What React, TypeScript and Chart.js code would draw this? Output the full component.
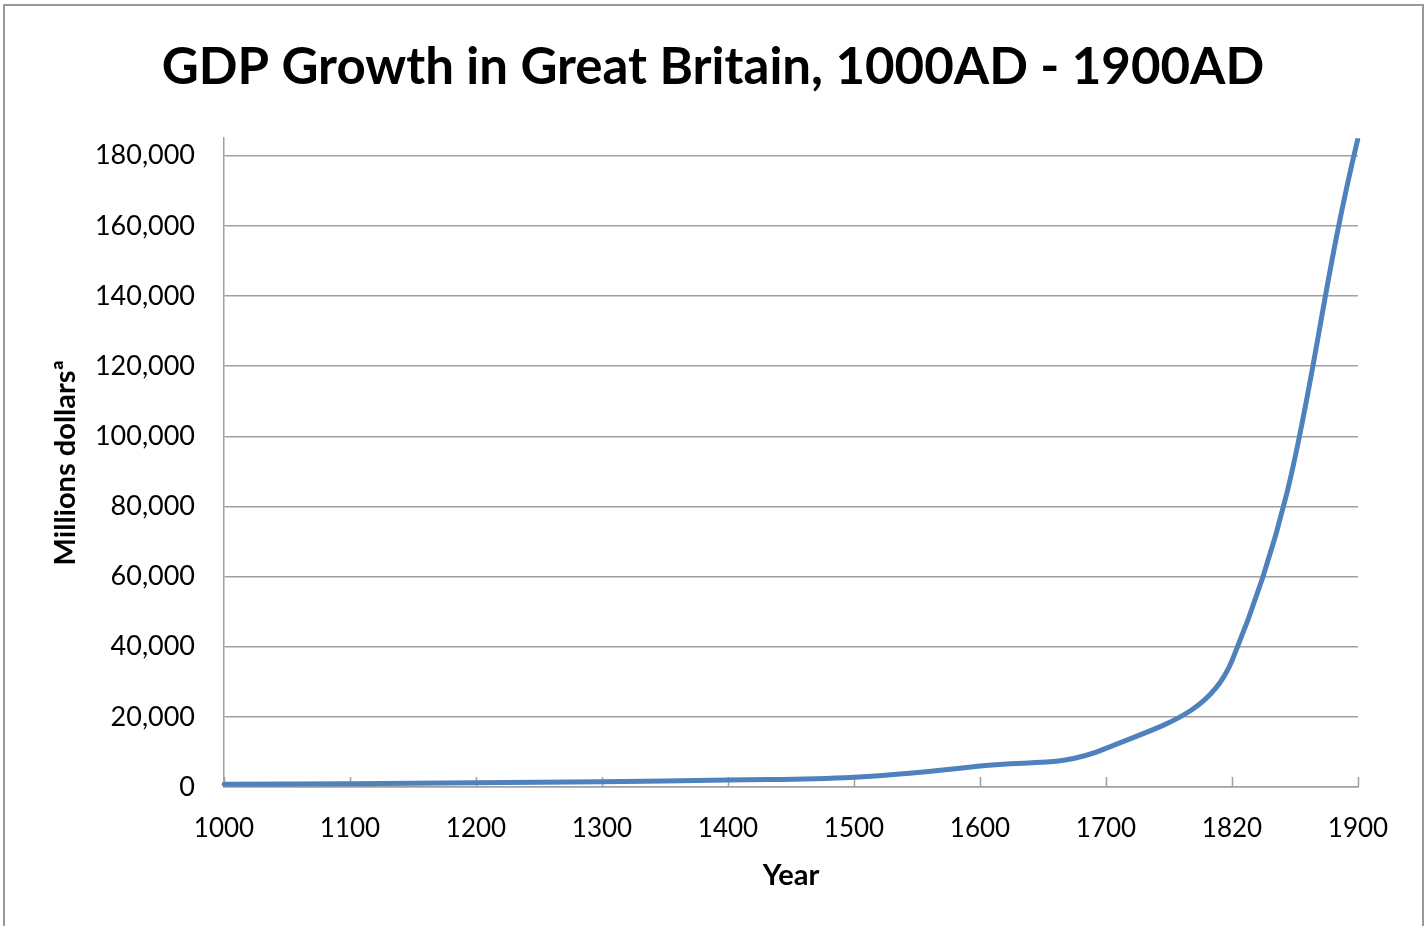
import React, { useEffect, useRef } from "react";
import { Chart, registerables } from "chart.js";

Chart.register(...registerables);

const years = ["1000", "1100", "1200", "1300", "1400", "1500", "1600", "1700", "1820", "1900"];
const gdp = [800, 900, 1200, 1500, 2000, 2800, 6000, 11000, 36000, 185000];
const yTicks = [0, 20000, 40000, 60000, 80000, 100000, 120000, 140000, 160000, 180000];
const yMax = 185000;

const FONT = "Lato, 'Open Sans', sans-serif";

const innerTicks = {
  id: "innerTicks",
  beforeDatasetsDraw(chart: any) {
    const x = chart.scales.x;
    const ctx = chart.ctx;
    const bottom = chart.chartArea.bottom;
    ctx.save();
    ctx.strokeStyle = "#a0a0a0";
    ctx.lineWidth = 1.5;
    ctx.beginPath();
    for (let i = 0; i < x.ticks.length; i++) {
      const px = Math.round(x.getPixelForTick(i)) + 0.5;
      ctx.moveTo(px, bottom);
      ctx.lineTo(px, bottom - 10);
    }
    ctx.stroke();
    ctx.restore();
  },
};

export default function App() {
  const ref = useRef<HTMLCanvasElement | null>(null);

  useEffect(() => {
    if (!ref.current) return;
    const chart = new Chart(ref.current, {
      type: "line",
      data: {
        labels: years,
        datasets: [
          {
            data: gdp,
            borderColor: "#4F81BD",
            borderWidth: 5,
            pointRadius: 0,
            tension: 0.4,
            fill: false,
            borderCapStyle: "round",
            borderJoinStyle: "round",
          },
        ],
      },
      options: {
        animation: false,
        responsive: false,
        layout: { padding: 0 },
        plugins: {
          legend: { display: false },
          tooltip: { enabled: false },
          title: {
            display: true,
            text: "GDP Growth in Great Britain, 1000AD - 1900AD",
            color: "#000",
            font: { family: FONT, size: 51, weight: "bold", lineHeight: 1.2 },
            padding: { top: 37, bottom: 40 },
          },
        },
        scales: {
          x: {
            type: "category",
            offset: false,
            grid: { display: true, drawOnChartArea: false, drawTicks: false },
            border: { display: true, color: "#a0a0a0", width: 1.5 },
            ticks: {
              color: "#000",
              font: { family: FONT, size: 26 },
              padding: 26,
              maxRotation: 0,
              autoSkip: false,
            },
            title: {
              display: true,
              text: "Year",
              color: "#000",
              font: { family: FONT, size: 29, weight: "bold", lineHeight: 1.2 },
              padding: { top: 0, bottom: 33 },
            },
            afterFit(scale: any) {
              scale.height = 139;
            },
          },
          y: {
            min: 0,
            max: yMax,
            grid: { color: "#a0a0a0", lineWidth: 1.5, drawTicks: false },
            border: { display: true, color: "#a0a0a0", width: 1.5 },
            ticks: {
              autoSkip: false,
              color: "#000",
              font: { family: FONT, size: 27 },
              padding: 29,
              callback: (v: any) => Math.round(Number(v)).toLocaleString("en-US"),
            },
            afterBuildTicks(scale: any) {
              scale.ticks = yTicks.map((v) => ({ value: v }));
            },
            title: {
              display: true,
              text: "Millions dollarsª",
              color: "#000",
              font: { family: FONT, size: 29, weight: "bold", lineHeight: 1.2 },
              padding: { top: 48, bottom: 0 },
            },
            afterFit(scale: any) {
              scale.width = 224;
            },
          },
          yRight: {
            position: "right",
            display: true,
            min: 0,
            max: yMax,
            grid: { drawOnChartArea: false, drawTicks: false },
            border: { display: false },
            ticks: { display: false },
            afterFit(scale: any) {
              scale.width = 68;
            },
          },
        },
      },
      plugins: [innerTicks],
    });
    return () => chart.destroy();
  }, []);

  return (
    <div style={{ position: "fixed", left: 0, top: 0, width: 1426, height: 926, background: "#fff", overflow: "hidden" }}>
      <canvas ref={ref} width={1426} height={926} style={{ position: "absolute", left: 0, top: 0 }} />
      <div
        style={{
          position: "absolute",
          left: 3,
          top: 4,
          width: 1417,
          height: 940,
          border: "2px solid #999",
          pointerEvents: "none",
        }}
      />
    </div>
  );
}
